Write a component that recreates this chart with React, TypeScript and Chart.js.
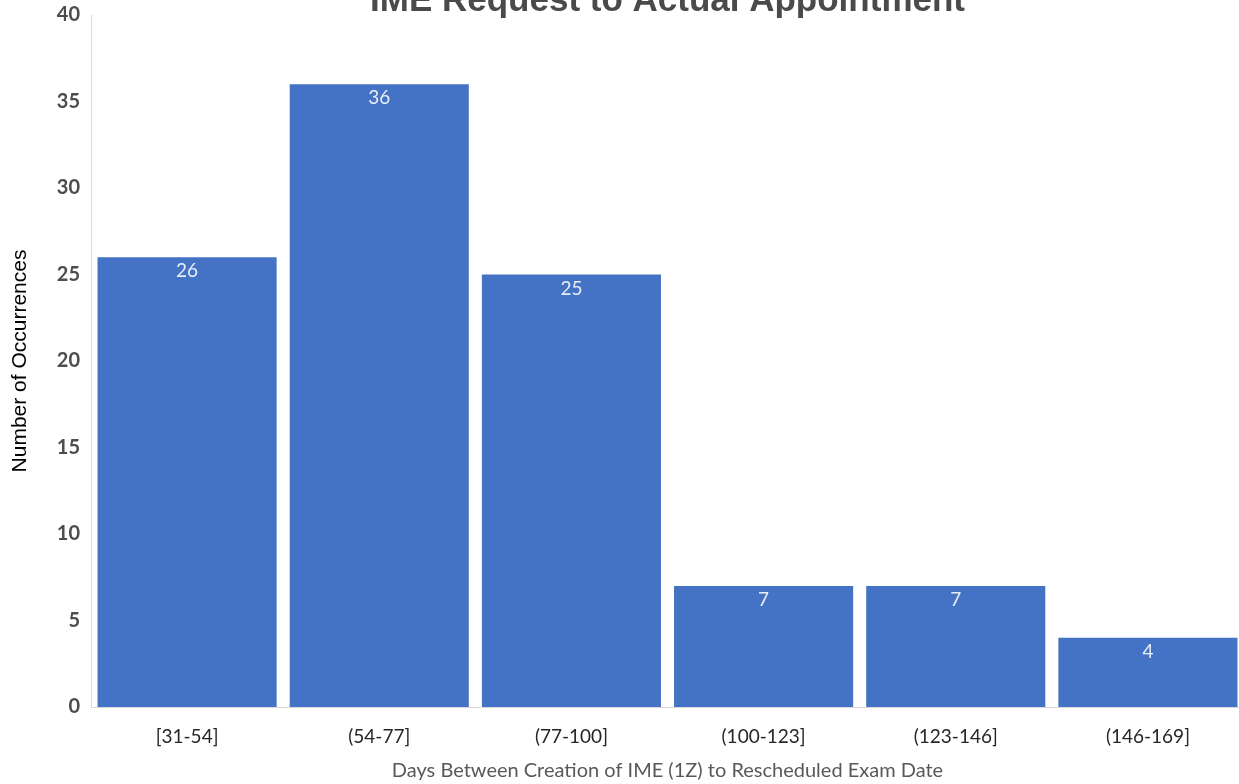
import React, { useEffect, useRef } from "react";
import { Chart, registerables } from "chart.js";

Chart.register(...registerables);

const TITLE = "IME Request to Actual Appointment";
const X_TITLE = "Days Between Creation of IME (1Z) to Rescheduled Exam Date";
const Y_TITLE = "Number of Occurrences";
const categories = ["[31-54]", "(54-77]", "(77-100]", "(100-123]", "(123-146]", "(146-169]"];
const occurrences = [26, 36, 25, 7, 7, 4];
const Y_MIN = 0;
const Y_MAX = 40;
const Y_STEP = 5;

const topTitlePlugin = {
  id: "topTitle",
  afterDraw(chart: any) {
    const { ctx, chartArea } = chart;
    ctx.save();
    ctx.font = "bold 35px 'Liberation Sans', Arial, sans-serif";
    ctx.fillStyle = "#4a4a4a";
    ctx.textAlign = "center";
    ctx.textBaseline = "alphabetic";
    ctx.fillText(TITLE, (chartArea.left + chartArea.right) / 2, 11);
    ctx.restore();
  },
};

const barLabelPlugin = {
  id: "barLabels",
  afterDatasetsDraw(chart: any) {
    const { ctx } = chart;
    const meta = chart.getDatasetMeta(0);
    ctx.save();
    ctx.font = "19px Lato, 'Open Sans', sans-serif";
    ctx.fillStyle = "#e8eef8";
    ctx.textAlign = "center";
    ctx.textBaseline = "middle";
    meta.data.forEach((bar: any, i: number) => {
      ctx.fillText(String(occurrences[i]), bar.x, bar.y + 14);
    });
    ctx.restore();
  },
};

export default function App() {
  const canvasRef = useRef<HTMLCanvasElement | null>(null);

  useEffect(() => {
    document.body.style.margin = "0";
    document.body.style.overflow = "hidden";
    document.body.style.background = "#ffffff";
    const canvas = canvasRef.current;
    if (!canvas) return;
    const chart = new Chart(canvas, {
      type: "bar",
      data: {
        labels: categories,
        datasets: [
          {
            label: "Occurrences",
            data: occurrences,
            backgroundColor: "#4472C4",
            borderWidth: 0,
            barPercentage: 0.932,
            categoryPercentage: 1,
          },
        ],
      },
      options: {
        animation: false,
        responsive: true,
        maintainAspectRatio: false,
        layout: { padding: { top: 12, right: 0, left: 0, bottom: 0 } },
        plugins: {
          legend: { display: false },
          title: { display: false },
          tooltip: { enabled: false },
        },
        scales: {
          x: {
            grid: { display: false },
            border: { display: true, color: "#d9d9d9", width: 1 },
            ticks: {
              color: "#262626",
              font: { family: "Lato, 'Open Sans', sans-serif", size: 19 },
              padding: 10,
              maxRotation: 0,
              autoSkip: false,
            },
            title: {
              display: true,
              text: X_TITLE,
              color: "#595959",
              font: { family: "Lato, 'Open Sans', sans-serif", size: 20 },
              padding: { top: 0, bottom: 1 },
            },
            afterFit(scale: any) {
              scale.height = 77;
            },
          },
          y: {
            min: Y_MIN,
            max: Y_MAX,
            grid: { display: false },
            border: { display: true, color: "#d9d9d9", width: 1 },
            ticks: {
              stepSize: Y_STEP,
              color: "#4d4d4d",
              font: { family: "Lato, 'Open Sans', sans-serif", size: 20, weight: "bold" },
              padding: 3,
            },
            title: {
              display: true,
              text: Y_TITLE,
              color: "#000000",
              font: { family: "'Liberation Sans', Arial, sans-serif", size: 21 },
              padding: { top: 8, bottom: 0 },
            },
            afterFit(scale: any) {
              scale.width = 91;
            },
          },
        },
      },
      plugins: [topTitlePlugin, barLabelPlugin],
    });
    return () => chart.destroy();
  }, []);

  return (
    <div style={{ position: "absolute", left: 0, top: 0, width: 1244, height: 784 }}>
      <canvas ref={canvasRef} />
    </div>
  );
}
